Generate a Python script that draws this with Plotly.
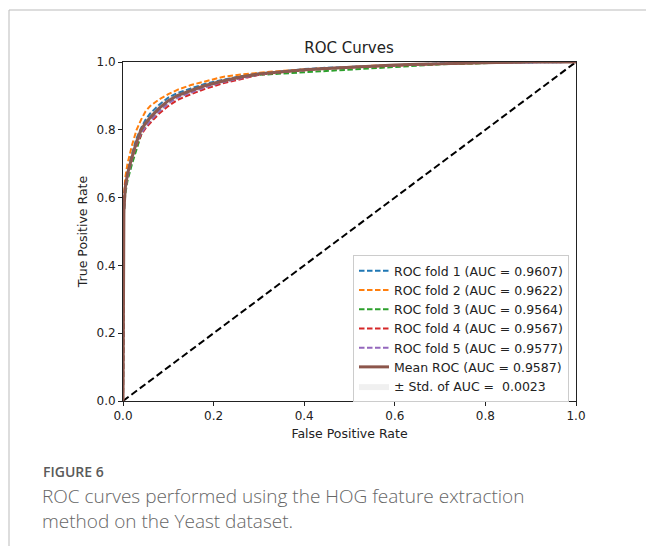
import plotly.graph_objects as go

# ---- data ----
fpr_grid = [0, 0.002, 0.005, 0.01, 0.02, 0.03, 0.04, 0.05, 0.06, 0.08, 0.10, 0.12, 0.15, 0.18, 0.22,
            0.26, 0.30, 0.35, 0.40, 0.45, 0.50, 0.55, 0.60, 0.65, 0.70, 0.75, 0.80, 0.85, 0.90, 1.0]

tpr_fold1 = [0, 0.57, 0.64, 0.68, 0.73, 0.775, 0.805, 0.83, 0.848, 0.874, 0.895, 0.908, 0.922, 0.935, 0.947,
             0.958, 0.966, 0.973, 0.979, 0.983, 0.986, 0.989, 0.992, 0.994, 0.996, 0.997, 0.998, 0.999, 1.0, 1.0]
tpr_fold2 = [0, 0.60, 0.66, 0.70, 0.755, 0.80, 0.83, 0.855, 0.87, 0.89, 0.905, 0.918, 0.932, 0.942, 0.956,
             0.963, 0.968, 0.974, 0.978, 0.982, 0.986, 0.989, 0.991, 0.993, 0.995, 0.997, 0.998, 0.999, 1.0, 1.0]
tpr_fold3 = [0, 0.55, 0.61, 0.65, 0.70, 0.745, 0.785, 0.815, 0.835, 0.862, 0.885, 0.900, 0.916, 0.930, 0.944,
             0.955, 0.962, 0.966, 0.970, 0.974, 0.978, 0.982, 0.986, 0.990, 0.993, 0.995, 0.997, 0.999, 1.0, 1.0]
tpr_fold4 = [0, 0.58, 0.64, 0.67, 0.715, 0.755, 0.785, 0.805, 0.82, 0.848, 0.87, 0.888, 0.905, 0.92, 0.937,
             0.95, 0.962, 0.970, 0.976, 0.981, 0.984, 0.987, 0.990, 0.992, 0.994, 0.996, 0.998, 0.999, 1.0, 1.0]
tpr_fold5 = [0, 0.55, 0.62, 0.66, 0.715, 0.76, 0.79, 0.81, 0.827, 0.855, 0.878, 0.895, 0.91, 0.925, 0.941,
             0.953, 0.963, 0.971, 0.977, 0.981, 0.985, 0.988, 0.991, 0.993, 0.995, 0.997, 0.998, 0.999, 1.0, 1.0]
tpr_mean = [0, 0.56, 0.63, 0.67, 0.72, 0.765, 0.80, 0.82, 0.836, 0.864, 0.886, 0.901, 0.916, 0.930, 0.944,
            0.956, 0.965, 0.972, 0.977, 0.981, 0.985, 0.988, 0.991, 0.993, 0.995, 0.997, 0.998, 0.999, 1.0, 1.0]
tpr_std = [0, 0.02, 0.02, 0.018, 0.018, 0.02, 0.017, 0.017, 0.017, 0.015, 0.013, 0.011, 0.01, 0.008, 0.007,
           0.005, 0.003, 0.003, 0.003, 0.003, 0.003, 0.003, 0.002, 0.002, 0.001, 0.001, 0.001, 0.0, 0.0, 0.0]

fold_labels = ["ROC fold 1 (AUC = 0.9607)", "ROC fold 2 (AUC = 0.9622)", "ROC fold 3 (AUC = 0.9564)",
               "ROC fold 4 (AUC = 0.9567)", "ROC fold 5 (AUC = 0.9577)"]
mean_label = "Mean ROC (AUC = 0.9587)"
std_label = "± Std. of AUC =  0.0023"
fold_colors = ["#1f77b4", "#ff7f0e", "#2ca02c", "#d62728", "#9467bd"]
tick_vals = [0.0, 0.2, 0.4, 0.6, 0.8, 1.0]
tick_text = ["0.0", "0.2", "0.4", "0.6", "0.8", "1.0"]
caption_head = "FIGURE 6"
caption_lines = ["ROC curves performed using the HOG feature extraction", "method on the Yeast dataset."]

folds = [tpr_fold1, tpr_fold2, tpr_fold3, tpr_fold4, tpr_fold5]

fig = go.Figure()

# chance line
fig.add_trace(go.Scatter(x=[0, 1], y=[0, 1], mode="lines", showlegend=False,
                         line=dict(color="black", width=2, dash="7px,3.5px")))

for tpr, lab, col in zip(folds, fold_labels, fold_colors):
    fig.add_trace(go.Scatter(x=fpr_grid, y=tpr, mode="lines", name=lab,
                             line=dict(color=col, width=2, dash="5.5px,2.5px")))

fig.add_trace(go.Scatter(x=fpr_grid, y=tpr_mean, mode="lines", name=mean_label,
                         line=dict(color="#8c564b", width=3)))

upper = [min(1.0, m + s) for m, s in zip(tpr_mean, tpr_std)]
lower = [max(0.0, m - s) for m, s in zip(tpr_mean, tpr_std)]
fig.add_trace(go.Scatter(x=fpr_grid + fpr_grid[::-1], y=upper + lower[::-1], mode="lines",
                         fill="toself", fillcolor="rgba(128,128,128,0.12)",
                         line=dict(width=0, color="rgba(0,0,0,0)"), name=std_label))

axis_common = dict(range=[0, 1], tickvals=tick_vals, ticktext=tick_text, ticks="outside", ticklen=4,
                   tickcolor="#222", showline=True, linecolor="#222", linewidth=1, mirror=True,
                   showgrid=False, zeroline=False,
                   tickfont=dict(family="DejaVu Sans", size=12, color="#222"))

fig.update_layout(
    width=646, height=546,
    margin=dict(l=123, r=70, t=62, b=145),
    paper_bgcolor="white", plot_bgcolor="white",
    title=dict(text="ROC Curves", x=(349 - 123) / 453, xref="paper", xanchor="center",
               y=1 - 48 / 546, yanchor="middle",
               font=dict(family="DejaVu Sans", size=15, color="#222")),
    xaxis=dict(**axis_common, title=dict(text="False Positive Rate", standoff=6,
                                        font=dict(family="DejaVu Sans", size=12.5, color="#222"))),
    yaxis=dict(**axis_common, title=dict(text="True Positive Rate", standoff=6,
                                        font=dict(family="DejaVu Sans", size=12.5, color="#222"))),
    legend=dict(x=(353 - 123) / 453, y=(401 - 255) / 339, xanchor="left", yanchor="top",
                bgcolor="rgba(255,255,255,0.85)", bordercolor="#cccccc", borderwidth=1,
                font=dict(family="DejaVu Sans", size=12.5, color="#222"), tracegroupgap=0),
    showlegend=True,
)

# outer page border (top & left)
fig.add_shape(type="line", xref="paper", yref="paper", x0=(9 - 123) / 453, x1=(646 - 123) / 453,
              y0=(401 - 10) / 339, y1=(401 - 10) / 339, line=dict(color="#bbbbbb", width=1))
fig.add_shape(type="line", xref="paper", yref="paper", x0=(9 - 123) / 453, x1=(9 - 123) / 453,
              y0=(401 - 10) / 339, y1=(401 - 546) / 339, line=dict(color="#bbbbbb", width=1))

# caption
fig.add_annotation(text=caption_head, xref="paper", yref="paper", x=(41 - 123) / 453, y=(401 - 471) / 339,
                   xanchor="left", yanchor="middle", showarrow=False,
                   font=dict(family="Open Sans", size=14, color="#5a5a5a", weight=600))
fig.add_annotation(text="<br>".join(caption_lines), xref="paper", yref="paper", align="left",
                   x=(40 - 123) / 453, y=(401 - 508.5) / 339, xanchor="left", yanchor="middle", showarrow=False,
                   font=dict(family="Open Sans", size=19, color="#666666", weight=300))

fig.write_html("out.html")
